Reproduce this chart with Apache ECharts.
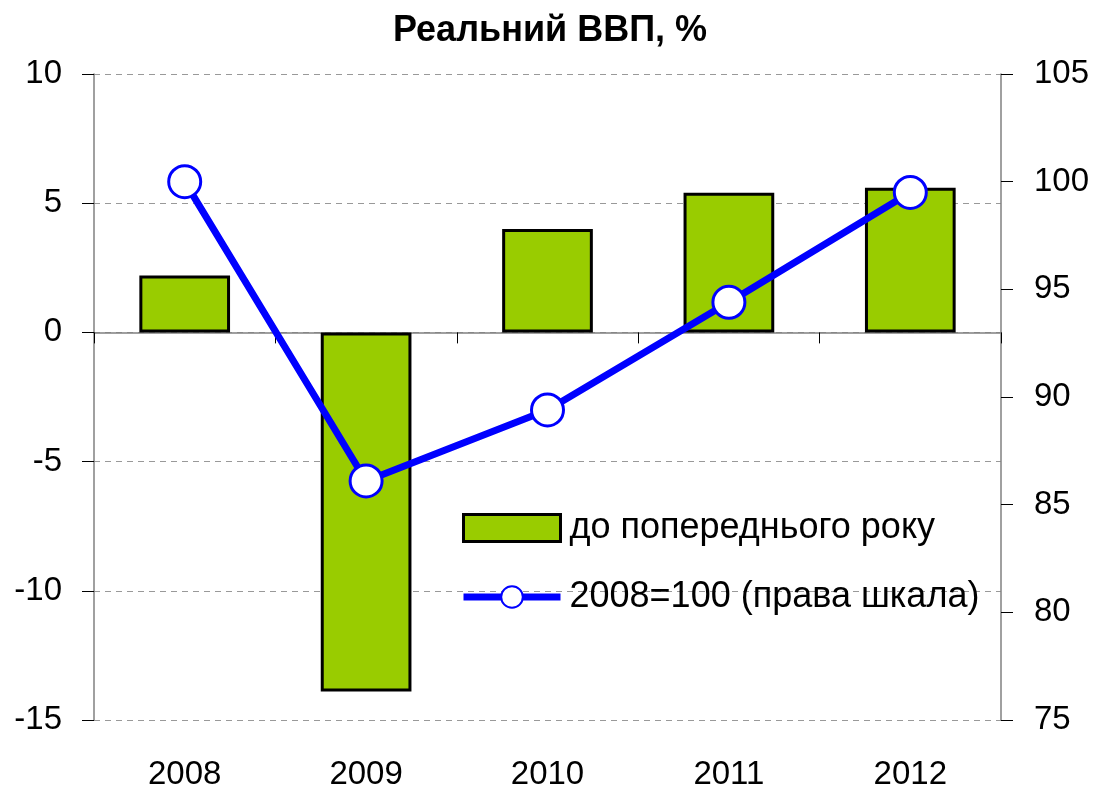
<!DOCTYPE html>
<html><head><meta charset="utf-8">
<script src="https://cdn.jsdelivr.net/npm/echarts@6/dist/echarts.min.js"></script>
<style>html,body{margin:0;padding:0;background:#fff}#c{width:1100px;height:793px}</style>
</head><body><div id="c"></div>
<script>
const categories = ['2008', '2009', '2010', '2011', '2012'];
const yoyValues = [2.2, -13.9, 4.0, 5.4, 5.6];
const indexValues = [100.0, 86.1, 89.4, 94.4, 99.5];
const leftTicks = { min: -15, max: 10, interval: 5 };
const rightTicks = { min: 75, max: 105, interval: 5 };
const seriesNames = ['до попереднього року', '2008=100 (права шкала)'];
const titleText = 'Реальний ВВП, %';

const FONT = '"Liberation Sans", Arial, sans-serif';
const chart = echarts.init(document.getElementById('c'), null, { renderer: 'canvas' });
chart.setOption({
  animation: false,
  backgroundColor: '#fff',
  textStyle: { fontFamily: FONT, color: '#000' },
  title: {
    text: titleText, left: 'center', top: 8,
    textStyle: { fontFamily: FONT, fontSize: 36, fontWeight: 'bold', color: '#000' }
  },
  grid: { left: 94, right: 99, top: 74, bottom: 73, containLabel: false },
  legend: {
    orient: 'vertical', left: 455, top: 505, itemGap: 33,
    itemWidth: 97, itemHeight: 27,
    textStyle: { fontFamily: FONT, fontSize: 36, color: '#000', padding: [0, 0, 0, 4] },
    data: [
      { name: seriesNames[0], icon: 'rect', itemStyle: { color: '#99CC00', borderColor: '#000', borderWidth: 3 } },
      { name: seriesNames[1], lineStyle: { color: '#0000FF', width: 7 } }
    ]
  },
  xAxis: [
    {
      type: 'category', data: categories, boundaryGap: true,
      axisLine: { onZero: true, lineStyle: { color: '#808080', width: 1.5 } },
      axisTick: { show: true, length: 11, lineStyle: { color: '#000' } },
      axisLabel: { show: false },
      splitLine: { show: false }
    },
    {
      type: 'category', data: categories, position: 'bottom', boundaryGap: true,
      axisLine: { show: false, onZero: false },
      axisTick: { show: false },
      axisLabel: { show: true, margin: 38, fontSize: 33, fontFamily: FONT, color: '#000' },
      splitLine: { show: false }
    }
  ],
  yAxis: [
    {
      type: 'value', min: leftTicks.min, max: leftTicks.max, interval: leftTicks.interval,
      position: 'left',
      axisLine: { show: true, onZero: false, lineStyle: { color: '#808080', width: 1.5 } },
      axisTick: { show: true, length: 12, lineStyle: { color: '#000' } },
      axisLabel: { margin: 32, fontSize: 33, fontFamily: FONT, color: '#000' },
      splitLine: { show: true, lineStyle: { color: '#999', type: [6, 5], width: 1 } }
    },
    {
      type: 'value', min: rightTicks.min, max: rightTicks.max, interval: rightTicks.interval,
      position: 'right',
      axisLine: { show: true, onZero: false, lineStyle: { color: '#808080', width: 1.5 } },
      axisTick: { show: true, length: 12, lineStyle: { color: '#000' } },
      axisLabel: { margin: 33, fontSize: 33, fontFamily: FONT, color: '#000' },
      splitLine: { show: false }
    }
  ],
  series: [
    {
      name: seriesNames[0], type: 'bar', xAxisIndex: 0, yAxisIndex: 0,
      data: yoyValues, barWidth: '50%',
      itemStyle: { color: '#99CC00', borderColor: '#000', borderWidth: 3 }
    },
    {
      name: seriesNames[1], type: 'line', xAxisIndex: 0, yAxisIndex: 1,
      data: indexValues, symbol: 'circle', symbolSize: 32, z: 5,
      lineStyle: { color: '#0000FF', width: 7 },
      itemStyle: { color: '#fff', borderColor: '#0000FF', borderWidth: 3 }
    }
  ]
});
</script></body></html>
